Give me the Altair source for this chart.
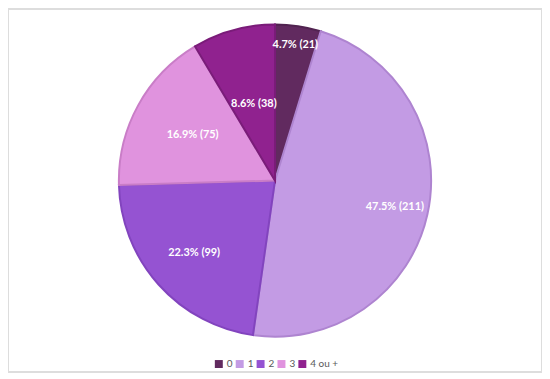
import altair as alt
import pandas as pd

categories = ["0", "1", "2", "3", "4 ou +"]
counts = [21, 211, 99, 75, 38]
percents = [4.7, 47.5, 22.3, 16.9, 8.6]

fills = ["#612A5F", "#C39BE4", "#9553D2", "#E093DE", "#90228F"]
strokes = ["#512350", "#AE84D0", "#8244BE", "#C97DC7", "#7A1C79"]

df = pd.DataFrame({
    "cat": categories,
    "count": counts,
    "pct": percents,
    "order": list(range(len(categories))),
})
df["label"] = [f"{p:.1f}% ({c})" for p, c in zip(percents, counts)]

W, H = 537, 365
cx, cy, R = 268.5, 172.5, 157

pie = alt.Chart(df).mark_arc(outerRadius=R, strokeWidth=2).encode(
    theta=alt.Theta("count:Q", stack=True),
    order=alt.Order("order:Q"),
    x=alt.value(cx),
    y=alt.value(cy),
    color=alt.Color(
        "cat:N",
        scale=alt.Scale(domain=categories, range=fills),
        legend=alt.Legend(
            title=None,
            orient="none",
            direction="horizontal",
            legendX=207,
            legendY=352,
            symbolType="square",
            symbolSize=64,
            symbolStrokeWidth=0,
            labelFontSize=10,
            labelColor="#595959",
            labelFont="Lato",
            labelOffset=3,
            columnPadding=2,
        ),
    ),
    stroke=alt.Stroke(
        "cat:N",
        scale=alt.Scale(domain=categories, range=strokes),
        legend=None,
    ),
)

labels = (
    alt.Chart(df)
    .transform_joinaggregate(total="sum(count)")
    .transform_window(cum="sum(count)", sort=[alt.SortField("order")])
    .transform_calculate(mid="2 * PI * (datum.cum - datum.count / 2) / datum.total")
    .mark_text(font="Lato", fontSize=11, fontWeight="bold", color="white")
    .encode(
        theta=alt.Theta("mid:Q", scale=None, stack=None),
        radius=alt.Radius(
            "cat:N",
            scale=alt.Scale(domain=categories, range=[138, 80, 122, 115, 105]),
        ),
        x=alt.value(cx),
        y=alt.value(cy),
        text="label:N",
    )
)

chart = (
    alt.layer(pie, labels)
    .properties(width=W, height=H, padding=0)
    .configure_view(stroke="#DDDDDD", strokeWidth=2)
)

chart.save("out.html", embed_options={"renderer": "svg", "actions": False})
